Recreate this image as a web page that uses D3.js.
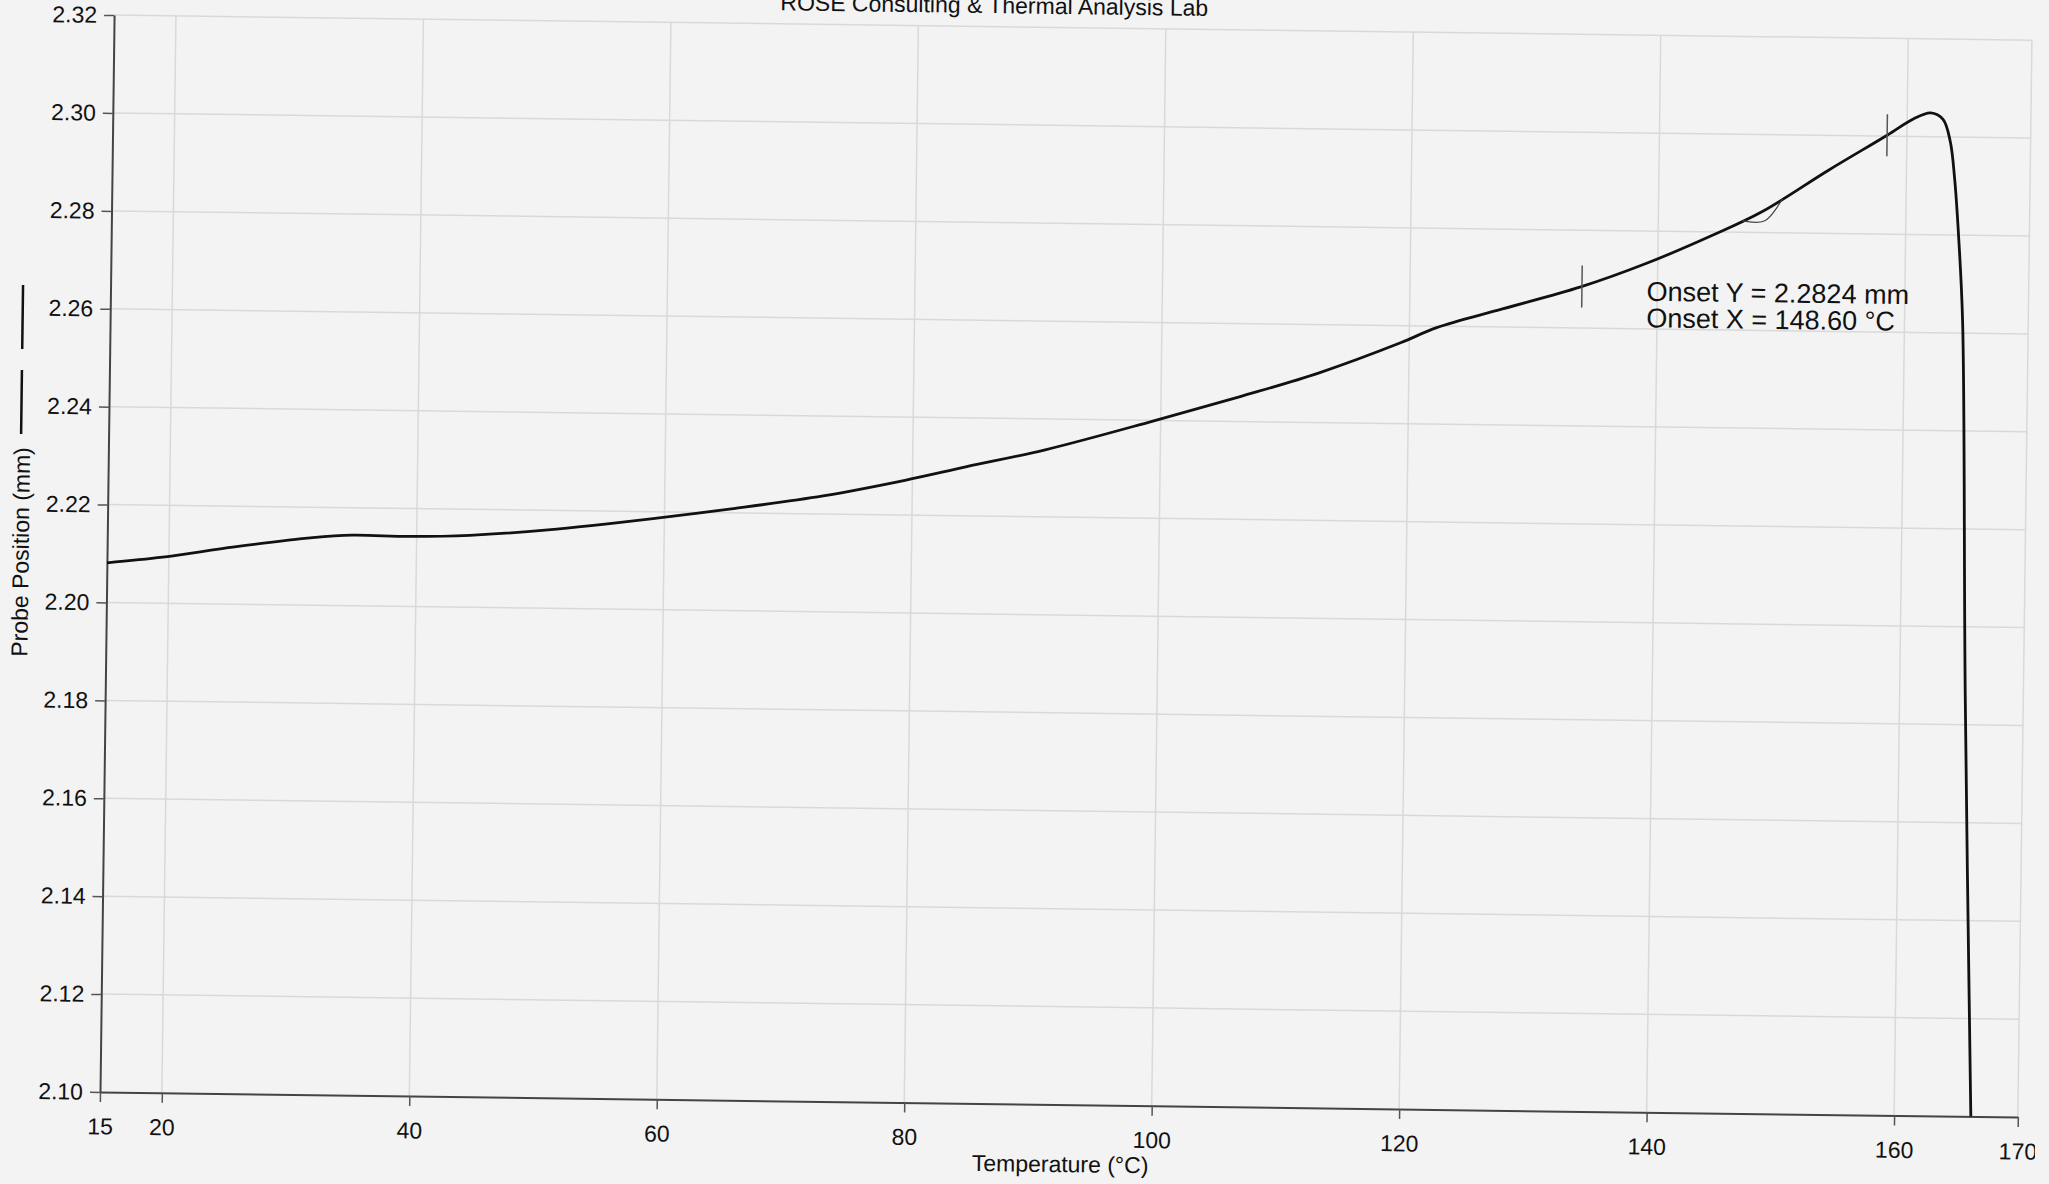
<!DOCTYPE html>
<meta charset="utf-8">
<style>
  html, body { margin: 0; padding: 0; background: #f3f3f3; }
  svg { display: block; }
  text { font-family: "Liberation Sans", Arial, sans-serif; fill: #111; }
</style>
<body>
<script src="https://cdnjs.cloudflare.com/ajax/libs/d3/7.8.5/d3.min.js"></script>
<script>
  // probe trace
  var temps = [15.0, 19.5, 25.3, 31.6, 34.8, 39.4, 44.3, 50.6, 59.4, 65.4, 72.8, 79.4, 84.3, 90.7,
               99.3, 106.4, 112.7, 119.3, 122.2, 127.5, 133.8, 139.1, 144.3, 148.4, 153.7, 158.4,
               160.5, 161.9, 162.9, 163.5, 163.9, 164.3, 164.7, 165.3, 166.2];
  var probe = [2.2081, 2.2094, 2.2117, 2.2138, 2.2144, 2.2143, 2.2147, 2.2160, 2.2187, 2.2208, 2.2237,
               2.2271, 2.2300, 2.2337, 2.2398, 2.2451, 2.2501, 2.2565, 2.2597, 2.2637, 2.2684, 2.2734,
               2.2792, 2.2843, 2.2929, 2.3002, 2.3036, 2.3049, 2.3036, 2.2992, 2.2915, 2.2791, 2.2621,
               2.1864, 2.1000];

  var xTicks = [15, 20, 40, 60, 80, 100, 120, 140, 160, 170];
  var xGrid = [20, 40, 60, 80, 100, 120, 140, 160, 170];
  var yTicks = [2.10, 2.12, 2.14, 2.16, 2.18, 2.20, 2.22, 2.24, 2.26, 2.28, 2.30, 2.32];

  var markerT = [133.9, 158.4];          // analysis range marks
  var onset = [148.6, 2.2824];
  var tangentT = [146.8, 150.0];
  var onsetLines = ["Onset Y = 2.2824 mm", "Onset X = 148.60 \u00B0C"];

  var W = 2049, H = 1184;
  var plotL = 100, plotB = 1092, plotR = 2018, plotT = 15;

  var svg = d3.select("body").append("svg").attr("width", W).attr("height", H);
  svg.append("rect").attr("width", W).attr("height", H).attr("fill", "#f3f3f3");

  // the scan is turned slightly clockwise
  var g = svg.append("g").attr("transform", "rotate(0.75," + plotL + "," + plotB + ")");

  var x = d3.scaleLinear().domain([15, 170]).range([plotL, plotR]);
  var y = d3.scaleLinear().domain([2.10, 2.32]).range([plotB, plotT]);

  function probeAt(t) {
    var i = d3.bisectLeft(temps, t);
    if (i <= 0) return probe[0];
    var f = (t - temps[i - 1]) / (temps[i] - temps[i - 1]);
    return probe[i - 1] + f * (probe[i] - probe[i - 1]);
  }

  // grid
  g.selectAll(".hgrid").data(yTicks.slice(1)).enter().append("line")
    .attr("x1", x(15)).attr("x2", x(170))
    .attr("y1", function (d) { return y(d); }).attr("y2", function (d) { return y(d); })
    .attr("stroke", "#d9d9d9").attr("stroke-width", 1.5);
  g.selectAll(".vgrid").data(xGrid).enter().append("line")
    .attr("x1", function (d) { return x(d); }).attr("x2", function (d) { return x(d); })
    .attr("y1", y(2.10)).attr("y2", y(2.32))
    .attr("stroke", "#d9d9d9").attr("stroke-width", 1.5);

  // axes
  var xAxis = g.append("g").attr("transform", "translate(0," + plotB + ")")
    .call(d3.axisBottom(x).tickValues(xTicks).tickSize(10).tickSizeOuter(0).tickPadding(16)
      .tickFormat(function (d) { return d; }));
  var yAxis = g.append("g").attr("transform", "translate(" + plotL + ",0)")
    .call(d3.axisLeft(y).tickValues(yTicks).tickSize(10).tickSizeOuter(0).tickPadding(7)
      .tickFormat(d3.format(".2f")));
  [xAxis, yAxis].forEach(function (a) {
    a.selectAll("path").attr("stroke", "#444").attr("stroke-width", 2);
    a.selectAll("line").attr("stroke", "#555").attr("stroke-width", 1.5);
    a.selectAll("text").attr("font-size", 23).attr("fill", "#111")
      .style("font-family", "'Liberation Sans', Arial, sans-serif");
  });

  // trace
  var line = d3.line()
    .x(function (d, i) { return x(temps[i]); })
    .y(function (d) { return y(d); })
    .curve(d3.curveCatmullRom.alpha(0.5));
  g.append("path").datum(probe).attr("d", line)
    .attr("fill", "none").attr("stroke", "#111").attr("stroke-width", 2.8);

  // onset tangents
  var tan = [[tangentT[0], probeAt(tangentT[0])], onset, [tangentT[1], probeAt(tangentT[1])]];
  g.append("path")
    .attr("d", d3.line().x(function (d) { return x(d[0]); }).y(function (d) { return y(d[1]); })
      .curve(d3.curveCatmullRom.alpha(0.5))(tan))
    .attr("fill", "none").attr("stroke", "#444").attr("stroke-width", 1.2);

  // range markers
  g.selectAll(".marker").data(markerT).enter().append("line")
    .attr("x1", function (d) { return x(d); }).attr("x2", function (d) { return x(d); })
    .attr("y1", function (d) { return y(probeAt(d)) - 21; })
    .attr("y2", function (d) { return y(probeAt(d)) + 21; })
    .attr("stroke", "#555").attr("stroke-width", 1.5);

  // onset readout
  g.selectAll(".onset").data(onsetLines).enter().append("text")
    .attr("x", 1636).attr("y", function (d, i) { return 280.5 + i * 26.6; })
    .attr("font-size", 27).text(function (d) { return d; });

  // titles
  g.append("text").attr("x", 980).attr("y", 1.5).attr("text-anchor", "middle")
    .attr("font-size", 23).text("ROSE Consulting & Thermal Analysis Lab");
  g.append("text").attr("x", 1061).attr("y", 1159.5).attr("text-anchor", "middle")
    .attr("font-size", 23).text("Temperature (\u00B0C)");
  g.append("text").attr("transform", "translate(21.6,553) rotate(-90)").attr("text-anchor", "middle")
    .attr("font-size", 23).text("Probe Position (mm)");

  // line sample next to the y title
  [[286, 350], [371, 435]].forEach(function (s) {
    g.append("line").attr("x1", 12.5).attr("x2", 12.5).attr("y1", s[0]).attr("y2", s[1])
      .attr("stroke", "#111").attr("stroke-width", 2.5);
  });

  // scan is cropped at the right
  svg.append("rect").attr("x", 2035).attr("y", 0).attr("width", W - 2035).attr("height", H)
    .attr("fill", "#f3f3f3");
</script>
</body>
